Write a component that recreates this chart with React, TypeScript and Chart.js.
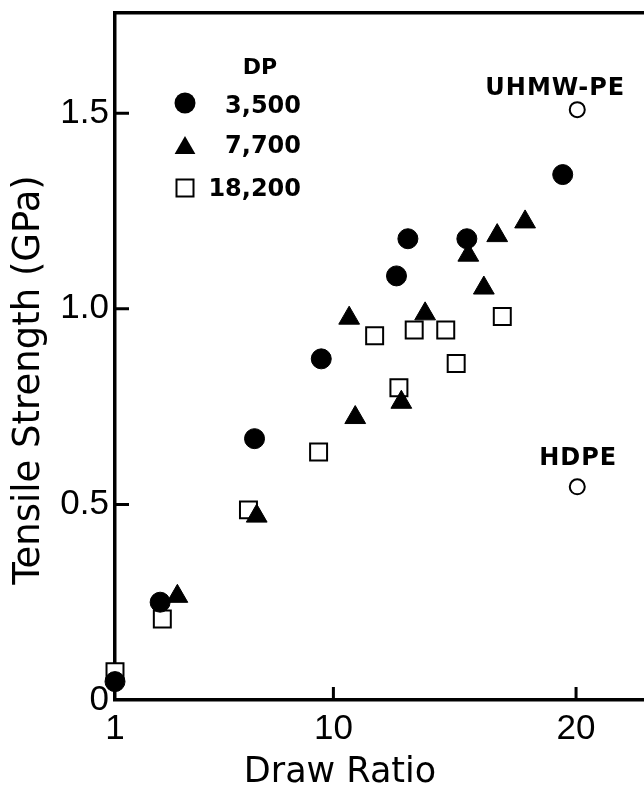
import React, { useEffect, useRef } from "react";
import { Chart, registerables } from "chart.js";

Chart.register(...registerables);

// ---- Data ----
const dp3500X = [1.0, 2.86, 6.75, 9.5, 12.6, 13.07, 15.5, 19.45];
const dp3500Y = [0.047, 0.25, 0.668, 0.872, 1.084, 1.179, 1.179, 1.343];

const dp7700X = [3.57, 6.84, 10.65, 10.9, 12.8, 13.78, 15.56, 16.2, 16.75, 17.9];
const dp7700Y = [0.265, 0.47, 0.976, 0.722, 0.761, 0.987, 1.137, 1.053, 1.187, 1.222];

const dp18200X = [1.0, 2.95, 6.5, 9.39, 11.7, 12.7, 13.33, 14.63, 15.06, 16.96];
const dp18200Y = [0.072, 0.207, 0.486, 0.634, 0.931, 0.798, 0.946, 0.946, 0.86, 0.98];

const refLabels = ["UHMW-PE", "HDPE"];
const refX = [20.05, 20.05];
const refY = [1.509, 0.545];

const xTicks = [1, 10, 20];
const yTicks = [0, 0.5, 1.0, 1.5];
const yTickLabels = ["0", "0.5", "1.0", "1.5"];

const legendTitle = "DP";
const legendLabels = ["3,500", "7,700", "18,200"];
const xTitle = "Draw Ratio";
const yTitle = "Tensile Strength (GPa)";

const TICK_FONT = "'Liberation Sans', Arial, sans-serif";
const TEXT_FONT = "'DejaVu Sans', sans-serif";

function toPts(xs: number[], ys: number[]) {
  return xs.map((x, i) => ({ x, y: ys[i] }));
}

function drawMarker(ctx: CanvasRenderingContext2D, style: string, x: number, y: number) {
  ctx.save();
  ctx.fillStyle = "#000";
  ctx.strokeStyle = "#000";
  ctx.beginPath();
  if (style === "circle") {
    ctx.arc(x, y, 10.5, 0, Math.PI * 2);
    ctx.fill();
  } else if (style === "triangle") {
    const r = 12;
    let a = 0;
    ctx.moveTo(x + Math.sin(a) * r, y - Math.cos(a) * r);
    a += (2 * Math.PI) / 3;
    ctx.lineTo(x + Math.sin(a) * r, y - Math.cos(a) * r);
    a += (2 * Math.PI) / 3;
    ctx.lineTo(x + Math.sin(a) * r, y - Math.cos(a) * r);
    ctx.closePath();
    ctx.fill();
  } else {
    ctx.fillStyle = "#fff";
    ctx.lineWidth = 2;
    ctx.rect(x - 8.5, y - 8.5, 17, 17);
    ctx.fill();
    ctx.stroke();
  }
  ctx.restore();
}

const noPad = (s: any) => {
  s.paddingTop = 0;
  s.paddingBottom = 0;
  s.paddingLeft = 0;
  s.paddingRight = 0;
};

const decorPlugin = {
  id: "decor",
  beforeDatasetsDraw(chart: any) {
    const { ctx, chartArea: ca } = chart;
    const xs = chart.scales.x;
    const ys = chart.scales.y;
    ctx.save();
    ctx.strokeStyle = "#000";
    ctx.lineWidth = 3;
    ctx.beginPath();
    for (const v of xTicks) {
      if (v === xs.min) continue;
      const px = xs.getPixelForValue(v);
      ctx.moveTo(px, ca.bottom);
      ctx.lineTo(px, ca.bottom - 13);
    }
    for (const v of yTicks) {
      if (v === ys.min) continue;
      const py = ys.getPixelForValue(v);
      ctx.moveTo(ca.left, py);
      ctx.lineTo(ca.left + 14, py);
    }
    ctx.stroke();
    ctx.restore();
  },
  afterDraw(chart: any) {
    const { ctx, chartArea: ca } = chart;
    ctx.save();
    ctx.fillStyle = "#000";

    // Legend
    const L = ca.left;
    const T = ca.top;
    ctx.font = `bold 22px ${TEXT_FONT}`;
    ctx.textAlign = "center";
    ctx.textBaseline = "alphabetic";
    ctx.fillText(legendTitle, L + 145, T + 61);
    const styles = ["circle", "triangle", "rect"];
    const markerY = [90, 135, 175];
    const textBase = [100, 140, 183];
    ctx.font = `bold 24px ${TEXT_FONT}`;
    ctx.textAlign = "right";
    styles.forEach((s, i) => {
      drawMarker(ctx, s, L + 70, T + markerY[i]);
      ctx.fillText(legendLabels[i], L + 186, T + textBase[i]);
    });

    // Annotations for reference materials
    const meta = chart.getDatasetMeta(3);
    const offs = [
      { dx: -22, dy: -15 },
      { dx: 1, dy: -22 },
    ];
    ctx.font = `bold 24px ${TEXT_FONT}`;
    ctx.textAlign = "center";
    try {
      (ctx as any).letterSpacing = "1px";
    } catch (e) {}
    meta.data.forEach((el: any, i: number) => {
      ctx.fillText(refLabels[i], el.x + offs[i].dx, el.y + offs[i].dy);
    });
    try {
      (ctx as any).letterSpacing = "0px";
    } catch (e) {}

    // Axis titles
    ctx.font = `35px ${TEXT_FONT}`;
    ctx.textAlign = "center";
    ctx.fillText(xTitle, 340, 782);

    ctx.save();
    ctx.translate(39, 380);
    ctx.rotate(-Math.PI / 2);
    ctx.font = `37px ${TEXT_FONT}`;
    ctx.fillText(yTitle, 0, 0);
    ctx.restore();

    ctx.restore();
  },
};

export default function App() {
  const canvasRef = useRef<HTMLCanvasElement | null>(null);

  useEffect(() => {
    if (!canvasRef.current) return;
    const chart = new Chart(canvasRef.current, {
      type: "scatter",
      data: {
        datasets: [
          {
            label: "3,500",
            data: toPts(dp3500X, dp3500Y),
            pointStyle: "circle",
            pointRadius: 10,
            pointBackgroundColor: "#000",
            pointBorderColor: "#000",
            pointBorderWidth: 1,
            order: 0,
            clip: false,
          } as any,
          {
            label: "7,700",
            data: toPts(dp7700X, dp7700Y),
            pointStyle: "triangle",
            pointRadius: 12,
            pointBackgroundColor: "#000",
            pointBorderColor: "#000",
            pointBorderWidth: 1,
            order: 1,
            clip: false,
          },
          {
            label: "18,200",
            data: toPts(dp18200X, dp18200Y),
            pointStyle: "rect",
            pointRadius: 12,
            pointBackgroundColor: "#fff",
            pointBorderColor: "#000",
            pointBorderWidth: 2,
            order: 2,
            clip: false,
          },
          {
            label: "reference",
            data: toPts(refX, refY),
            pointStyle: "circle",
            pointRadius: 7.5,
            pointBackgroundColor: "#fff",
            pointBorderColor: "#000",
            pointBorderWidth: 2,
            order: 3,
            clip: false,
          },
        ],
      },
      options: {
        responsive: false,
        animation: false,
        events: [],
        layout: { padding: 0, autoPadding: false },
        plugins: {
          legend: { display: false },
          tooltip: { enabled: false },
        },
        scales: {
          x: {
            type: "linear",
            position: "bottom",
            min: 1,
            max: 22.8,
            afterBuildTicks: (s: any) => {
              s.ticks = xTicks.map((v) => ({ value: v }));
            },
            afterFit: (s: any) => {
              s.height = 86;
              noPad(s);
            },
            ticks: {
              color: "#000",
              font: { family: TICK_FONT, size: 35 },
              padding: 8,
              maxRotation: 0,
              autoSkip: false,
              callback: (v: any) => String(v),
            },
            grid: { display: false, drawTicks: false },
            border: { display: true, color: "#000", width: 3.5 },
          },
          xTop: {
            type: "linear",
            position: "top",
            afterFit: (s: any) => {
              s.height = 13;
              noPad(s);
            },
            ticks: { display: false },
            grid: { display: false, drawTicks: false },
            border: { display: true, color: "#000", width: 3.5 },
          },
          y: {
            type: "linear",
            position: "left",
            min: 0,
            max: 1.756,
            afterBuildTicks: (s: any) => {
              s.ticks = yTicks.map((v) => ({ value: v }));
            },
            afterFit: (s: any) => {
              s.width = 115;
              noPad(s);
            },
            ticks: {
              color: "#000",
              font: { family: TICK_FONT, size: 35 },
              padding: 6,
              autoSkip: false,
              callback: (v: any) => {
                const i = yTicks.indexOf(Number(v));
                return i >= 0 ? yTickLabels[i] : "";
              },
            },
            grid: { display: false, drawTicks: false },
            border: { display: true, color: "#000", width: 3.5 },
          },
        },
      },
      plugins: [decorPlugin],
    } as any);
    return () => chart.destroy();
  }, []);

  return (
    <div style={{ position: "absolute", left: 0, top: 0, width: 644, height: 786, background: "#fff" }}>
      <canvas ref={canvasRef} width={644} height={786} style={{ display: "block" }} />
    </div>
  );
}
